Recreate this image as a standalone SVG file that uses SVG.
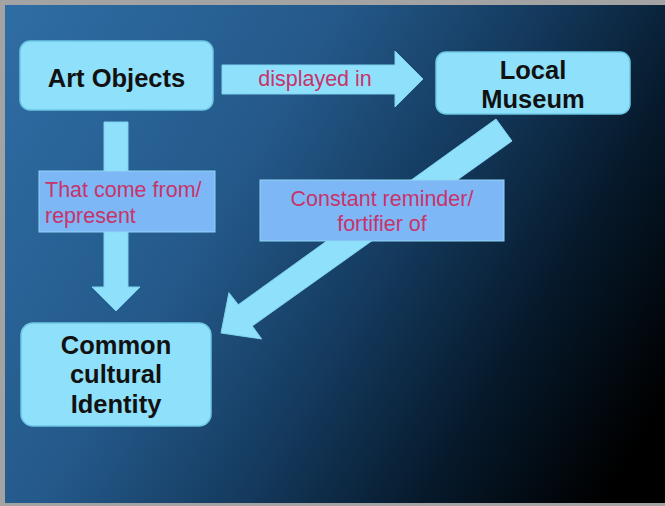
<svg xmlns="http://www.w3.org/2000/svg" width="665" height="506" viewBox="0 0 665 506">
<defs>
<linearGradient id="bg" gradientUnits="userSpaceOnUse" x1="0" y1="0" x2="665" y2="400">
<stop offset="0" stop-color="#2f6ea5"/>
<stop offset="0.38" stop-color="#24598a"/>
<stop offset="0.6" stop-color="#143a5e"/>
<stop offset="0.8" stop-color="#06192b"/>
<stop offset="1" stop-color="#000000"/>
</linearGradient>
<style>
.node{fill:#8fe0fb;stroke:#6cc6e4;stroke-width:1.5}
.arrow{fill:#8fe0fb;stroke:#7fd2ee;stroke-width:1}
.lbl{fill:#7eb7f5;stroke:#8fd6f6;stroke-width:1}
.nt{font-family:"Liberation Sans",Arial,sans-serif;font-weight:bold;font-size:25.5px;fill:#111111;text-anchor:middle}
.lt{font-family:"Liberation Sans",Arial,sans-serif;font-size:21.5px;fill:#c8336b}
</style>
</defs>
<rect x="0" y="0" width="665" height="506" fill="#a3a3a3"/>
<rect x="5" y="5" width="660" height="498" fill="url(#bg)"/>
<g id="connectors">
<polygon class="arrow" points="222,65 395,65 395,51 423,79 395,107 395,94 222,94"/>
<text class="lt" x="315" y="86" text-anchor="middle">displayed in</text>
<polygon class="arrow" points="104,122 128,122 128,287 140,287 116,311 92,287 104,287"/>
<rect class="lbl" x="39" y="171" width="176" height="61"/>
<text class="lt" x="45" y="197">That come from/</text>
<text class="lt" x="45" y="223">represent</text>
<polygon class="arrow" points="496,119 512,141 252.3,326 261.7,339 221,333 228.9,292.7 238.3,304.7"/>
<rect class="lbl" x="260" y="180" width="244" height="61"/>
<text class="lt" x="382" y="206" text-anchor="middle">Constant reminder/</text>
<text class="lt" x="382" y="231" text-anchor="middle">fortifier of</text>
</g>
<g id="art-objects">
<rect class="node" x="20" y="41" width="193" height="69" rx="10"/>
<text class="nt" x="116.5" y="87">Art Objects</text>
</g>
<g id="local-museum">
<rect class="node" x="436" y="52" width="194" height="62" rx="10"/>
<text class="nt" x="533" y="79">Local</text>
<text class="nt" x="533" y="108">Museum</text>
</g>
<g id="common-cultural-identity">
<rect class="node" x="21" y="323" width="190" height="103" rx="12"/>
<text class="nt" x="116" y="354">Common</text>
<text class="nt" x="116" y="383">cultural</text>
<text class="nt" x="116" y="413">Identity</text>
</g>
</svg>
